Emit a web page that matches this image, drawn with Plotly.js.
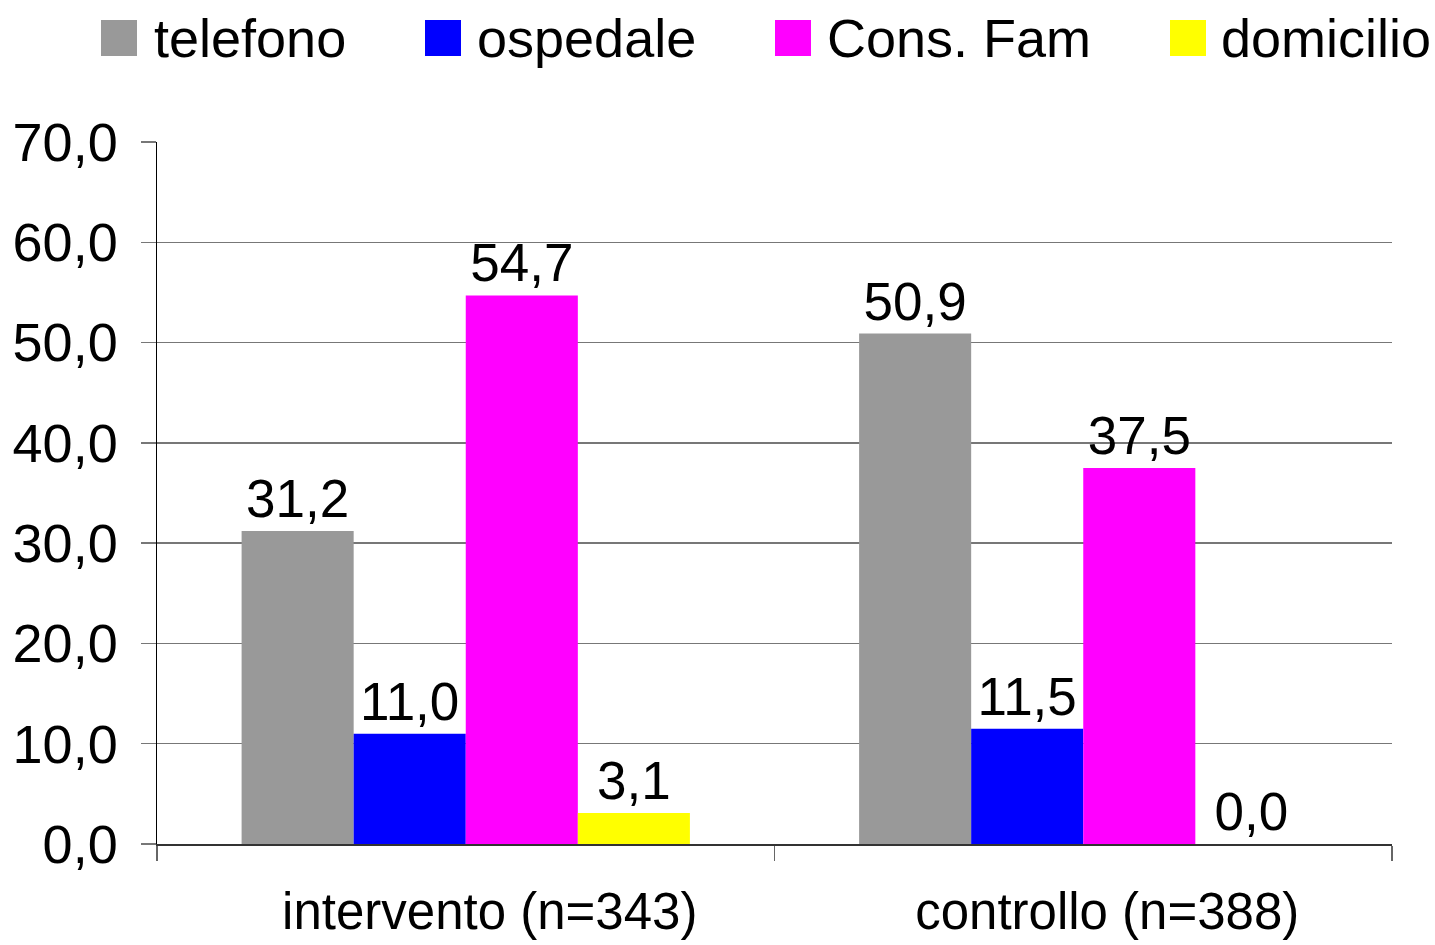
<!DOCTYPE html>
<html>
<head>
<meta charset="utf-8">
<script src="https://cdn.plot.ly/plotly-3.0.1.min.js"></script>
<style>html,body{margin:0;padding:0;background:#fff;}#chart{width:1435px;height:945px;}</style>
</head>
<body>
<div id="chart"></div>
<script>
// ---- data ----
const groups = ["intervento (n=343)", "controllo (n=388)"];
const seriesNames = ["telefono", "ospedale", "Cons. Fam", "domicilio"];
const telefono = [31.2, 50.9];
const ospedale = [11.0, 11.5];
const consFam = [54.7, 37.5];
const domicilio = [3.1, 0.0];
const yTicks = [0, 10, 20, 30, 40, 50, 60, 70];

// ---- styles / layout ----
const colors = ["#999999", "#0000ff", "#ff00ff", "#ffff00"];
const FONT = "Liberation Sans, Arial, Helvetica, sans-serif";
const W = 1435, H = 945;
const M = {l: 157, r: 43, t: 142, b: 101};
const PW = W - M.l - M.r, PH = H - M.t - M.b;
const px2x = p => (p - M.l) / PW;
const px2y = p => (H - M.b - p) / PH;

const values = [telefono, ospedale, consFam, domicilio];
const fmt = v => v.toFixed(1).replace('.', ',');

const traces = seriesNames.map((name, i) => ({
  type: 'bar',
  name: name,
  x: groups,
  y: values[i],
  marker: {color: colors[i], line: {width: 0}},
  text: values[i].map(fmt),
  textposition: 'outside',
  textfont: {family: FONT, size: 53, color: '#000'},
  cliponaxis: false,
  showlegend: false,
  hoverinfo: 'none'
}));

// custom legend (large square swatches like the original)
const legSwatchX = [101, 425, 775, 1170];
const legTextX = [152, 475, 825, 1219];
const legTop = 20, legSize = 36, legMid = 38;
const shapes = [];
const annotations = [];
seriesNames.forEach((name, i) => {
  shapes.push({
    type: 'rect', xref: 'paper', yref: 'paper',
    x0: px2x(legSwatchX[i]), x1: px2x(legSwatchX[i] + legSize),
    y0: px2y(legTop + legSize), y1: px2y(legTop),
    fillcolor: colors[i], line: {width: 0}
  });
  annotations.push({
    xref: 'paper', yref: 'paper',
    x: px2x(legTextX[i]), y: px2y(legMid),
    xanchor: 'left', yanchor: 'middle',
    text: name, showarrow: false,
    font: {family: FONT, size: 54, color: '#000'}
  });
});

const layout = {
  width: W, height: H,
  margin: M,
  paper_bgcolor: '#fff', plot_bgcolor: '#fff',
  font: {family: FONT, size: 50, color: '#000'},
  separators: ',.',
  barmode: 'group',
  bargap: 0.274,
  bargroupgap: 0,
  showlegend: false,
  xaxis: {
    type: 'category',
    range: [-0.5, 1.5],
    showgrid: false,
    showline: true, linecolor: '#333', linewidth: 1.5,
    ticks: 'outside', tickson: 'boundaries', ticklen: 15, tickcolor: '#666', tickwidth: 1.5,
    tickfont: {family: FONT, size: 51, color: '#000'},
    ticklabelshift: 24,
    ticklabelstandoff: 22,
    zeroline: false, fixedrange: true
  },
  yaxis: {
    range: [0, 70],
    tickvals: yTicks,
    tickformat: '.1f',
    showgrid: true, gridcolor: '#777', gridwidth: 1.5,
    showline: true, linecolor: '#000', linewidth: 1.5,
    ticks: 'outside', ticklen: 15, tickcolor: '#777', tickwidth: 1.5,
    tickfont: {family: FONT, size: 54, color: '#000'},
    ticklabelstandoff: 12,
    zeroline: false, fixedrange: true
  },
  shapes: shapes,
  annotations: annotations
};

Plotly.newPlot('chart', traces, layout, {displayModeBar: false, staticPlot: true});
</script>
</body>
</html>
